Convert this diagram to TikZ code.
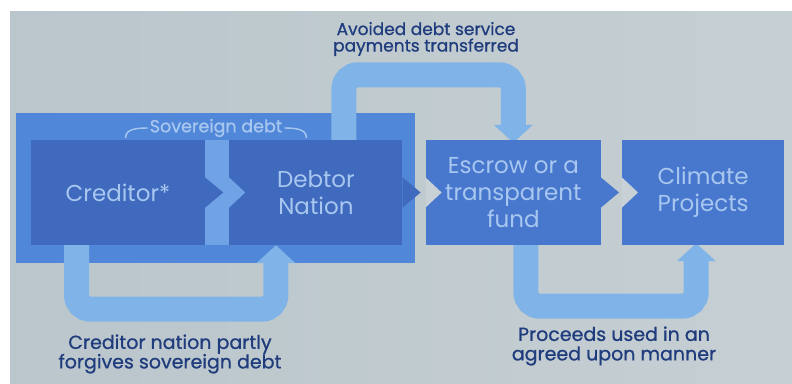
\documentclass[tikz,border=0pt]{standalone}
\usepackage{fontspec}
\setmainfont{Poppins}
\newfontfamily\lblfont[FakeBold=0.8]{Poppins}
\usetikzlibrary{arrows.meta}
\usetikzlibrary{positioning}

\definecolor{bgleft}{HTML}{BAC6CC}
\definecolor{bgmid}{HTML}{CDD5D8}
\definecolor{bgright}{HTML}{C6CFD3}
\definecolor{gapgrey}{HTML}{C8D1D5}
\definecolor{groupblue}{HTML}{5187D8}
\definecolor{bandblue}{HTML}{6FA3E6}
\definecolor{boxdark}{HTML}{3F6ABD}
\definecolor{boxlight}{HTML}{4878CD}
\definecolor{arrowblue}{HTML}{80B4E8}
\definecolor{boxtext}{HTML}{A8C7F0}
\definecolor{navy}{HTML}{1F3C7C}

\pgfdeclarelayer{back}
\pgfdeclarelayer{mid}
\pgfsetlayers{back,mid,main}

\begin{document}
\begin{tikzpicture}[x=1pt,y=-1pt,node distance=23pt,
    box/.style={text=boxtext,minimum width=174pt,minimum height=105pt,
        align=center,inner sep=0pt,font=\fontsize{23}{27}\selectfont},
    flow/.style={draw=arrowblue,line width=25pt,rounded corners=14pt,
        -{Triangle[width=38pt,length=18pt]}},
    lbl/.style={text=navy,align=center,inner sep=0pt},
    sovline/.style={draw=boxtext,line width=1.4pt}]
    \useasboundingbox (0,0) rectangle (792,383);

    \begin{pgfonlayer}{back}
        \fill[white] (0,0) rectangle (792,383);
        \fill[left color=bgleft,middle color=bgmid,right color=bgright] (10,11) rectangle (792,383);
        \node[fill=groupblue,minimum width=399pt,minimum height=150pt,inner sep=0pt] (sovgroup) at (215.5,188) {};
    \end{pgfonlayer}

    % process boxes
    \node[box,fill=boxdark] (creditor) at (118,192.5) {Creditor*};
    \node[box,fill=boxdark,minimum width=173pt] (debtor) [right=24pt of creditor] {Debtor\\Nation};
    \node[box,fill=boxlight,minimum width=175pt] (escrow) [right=of debtor] {Escrow or a\\transparent\\fund};
    \node[box,fill=boxlight,minimum width=162pt] (climate) [right=21pt of escrow] {Climate\\Projects};

    % chevron notches and tips
    \fill[bandblue] (debtor.west) ++(0,-15) -- ++(16,15) -- ++(-16,15) -- cycle;
    \foreach \n in {escrow,climate}
        \fill[gapgrey] (\n.west) ++(0,-15) -- ++(16,15) -- ++(-16,15) -- cycle;
    \foreach \n/\c in {creditor/boxdark,debtor/boxdark,escrow/boxlight}
        \fill[\c] (\n.east) ++(0,-15) -- ++(18,15) -- ++(-18,15) -- cycle;

    \begin{pgfonlayer}{mid}
        \fill[bandblue] (creditor.north east) rectangle (debtor.south west);
        \draw[flow] ([xshift=28pt]debtor.north) -- ++(0,-65) -| ([yshift=-3pt]escrow.north);
        \draw[flow] ([xshift=-41.5pt]creditor.south) -- ++(0,64) -| ([xshift=-40pt]debtor.south);
        \draw[flow] ([xshift=12.5pt]escrow.south) -- ++(0,61) -| ([xshift=-7pt,yshift=2pt]climate.south);
    \end{pgfonlayer}

    % labels
    \node[text=boxtext,inner sep=0pt,font=\lblfont\fontsize{17.5}{18}\selectfont] (sovlbl) at (216,128) {Sovereign debt};
    \draw[sovline] ([xshift=-2pt]sovlbl.west) .. controls +(-14,0) and +(0,-8) .. ++(-22,10);
    \draw[sovline] ([xshift=2pt]sovlbl.east) .. controls +(14,0) and +(0,-8) .. ++(22,10);
    \node[lbl,font=\lblfont\fontsize{17}{16.5}\selectfont] (avoidlbl) at (426,39) {Avoided debt service\\payments transferred};
    \node[lbl,font=\lblfont\fontsize{19}{19.5}\selectfont] (forgivelbl) at (170,354) {Creditor nation partly\\forgives sovereign debt};
    \node[lbl,font=\lblfont\fontsize{19}{19.5}\selectfont] (proceedslbl) at (614,346) {Proceeds used in an\\agreed upon manner};
\end{tikzpicture}
\end{document}
